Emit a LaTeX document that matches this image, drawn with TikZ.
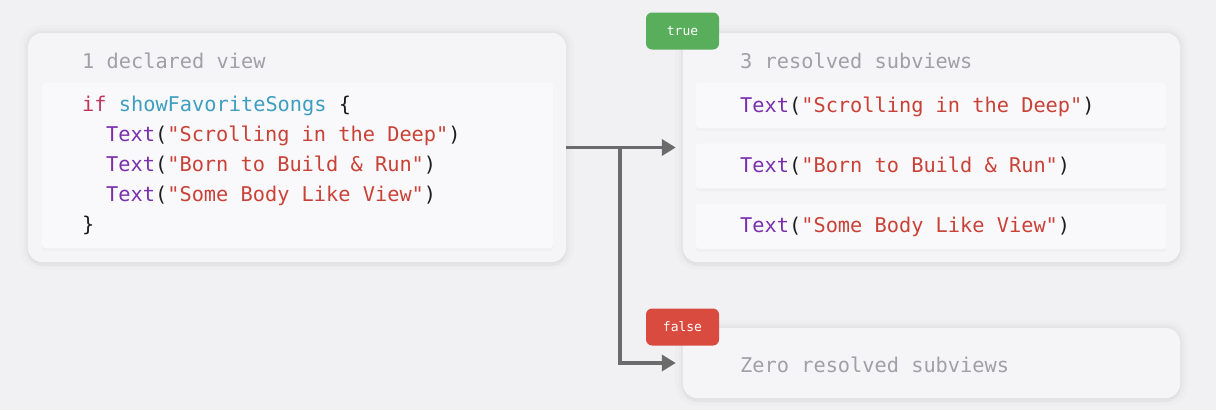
\documentclass[tikz,border=0pt]{standalone}
\usepackage{fontspec}
\setmonofont{DejaVu Sans Mono}
\usepackage{xcolor}
\usetikzlibrary{positioning,arrows.meta,shadows}
\definecolor{canvasgray}{HTML}{F1F1F3}
\definecolor{cardgray}{HTML}{F5F5F7}
\definecolor{panelgray}{HTML}{F9F9FB}
\definecolor{labelgray}{HTML}{A0A0A5}
\definecolor{kwpink}{HTML}{C2365C}
\definecolor{vartteal}{HTML}{3D9EBF}
\definecolor{typepurple}{HTML}{7A2FAF}
\definecolor{strred}{HTML}{C94137}
\definecolor{punctdark}{HTML}{1D1D1F}
\definecolor{arrowgray}{HTML}{6B6B6B}
\definecolor{truegreen}{HTML}{58AE5B}
\definecolor{falsered}{HTML}{D84B3E}
\newcommand{\codekw}[1]{\textcolor{kwpink}{#1}}
\newcommand{\codevar}[1]{\textcolor{vartteal}{#1}}
\newcommand{\codetype}[1]{\textcolor{typepurple}{#1}}
\newcommand{\codestr}[1]{\textcolor{strred}{#1}}
\newcommand{\codefont}{\ttfamily\fontsize{20.3}{30}\selectfont}

\begin{document}
\begin{tikzpicture}[
    x=1pt, y=-1pt,
    card/.style={rectangle, rounded corners=14pt, fill=cardgray, inner sep=0pt,
        preaction={draw=black, opacity=0.012, line width=16pt},
        preaction={draw=black, opacity=0.015, line width=9pt},
        preaction={draw=black, opacity=0.018, line width=4pt},
        drop shadow={shadow xshift=0pt, shadow yshift=-4pt, opacity=0.04}},
    panel/.style={rectangle, rounded corners=3pt, fill=panelgray, inner sep=0pt,
        drop shadow={shadow xshift=0pt, shadow yshift=-3pt, opacity=0.04}},
    subview/.style={panel, minimum width=470pt, minimum height=45pt},
    code/.style={anchor=base west, inner sep=0pt, font=\codefont, text=punctdark},
    label/.style={anchor=base west, inner sep=0pt, font=\codefont, text=labelgray},
    badge/.style={rectangle, rounded corners=6pt, minimum width=73pt, minimum height=37pt,
        inner sep=0pt, text=white, font=\ttfamily\fontsize{13}{15}\selectfont},
    arrow/.style={-{Triangle[length=14pt, width=16pt]}, arrowgray, line width=3.5pt,
        shorten >=7pt},
    node distance=15pt
]

\fill[canvasgray] (0,0) rectangle (1216,410);

% declared view
\node[card, minimum width=538pt, minimum height=229pt] (declared) at (297,147.5) {};
\node[label] (declaredlabel) at (82,68.5) {1 declared view};
\node[panel, minimum width=511pt, minimum height=165pt] (codepanel) at (297.5,165.5) {};
\node[code] (ifline) at (82,111.5) {\codekw{if} \codevar{showFavoriteSongs} \{};
\node[code] (song1) at (106,141.5) {\codetype{Text}(\codestr{"Scrolling in the Deep"})};
\node[code] (song2) at (106,171.5) {\codetype{Text}(\codestr{"Born to Build \& Run"})};
\node[code] (song3) at (106,201.5) {\codetype{Text}(\codestr{"Some Body Like View"})};
\node[code] (closebrace) at (82,231.5) {\}};

% true branch
\node[card, minimum width=497pt, minimum height=229pt] (resolved) at (931.5,147.5) {};
\node[label] (resolvedlabel) at (740,68.5) {3 resolved subviews};
\node[subview] (sub1) at (931,105.5) {};
\node[subview, below=of sub1] (sub2) {};
\node[subview, below=of sub2] (sub3) {};
\node[code] (subtext1) at (740,112.5) {\codetype{Text}(\codestr{"Scrolling in the Deep"})};
\node[code] (subtext2) at (740,172.5) {\codetype{Text}(\codestr{"Born to Build \& Run"})};
\node[code] (subtext3) at (740,232.5) {\codetype{Text}(\codestr{"Some Body Like View"})};
\node[badge, fill=truegreen] (truebadge) at (682.5,31) {true};

% false branch
\node[card, minimum width=497pt, minimum height=70pt] (zero) at (931.5,363) {};
\node[label] (zerolabel) at (740,372.5) {Zero resolved subviews};
\node[badge, fill=falsered] (falsebadge) at (682.5,327) {false};

% connectors
\coordinate (split) at (620,147.5);
\draw[arrow] (declared.east) -- (resolved.west);
\draw[arrow] (split) |- (zero.west);

\end{tikzpicture}
\end{document}
